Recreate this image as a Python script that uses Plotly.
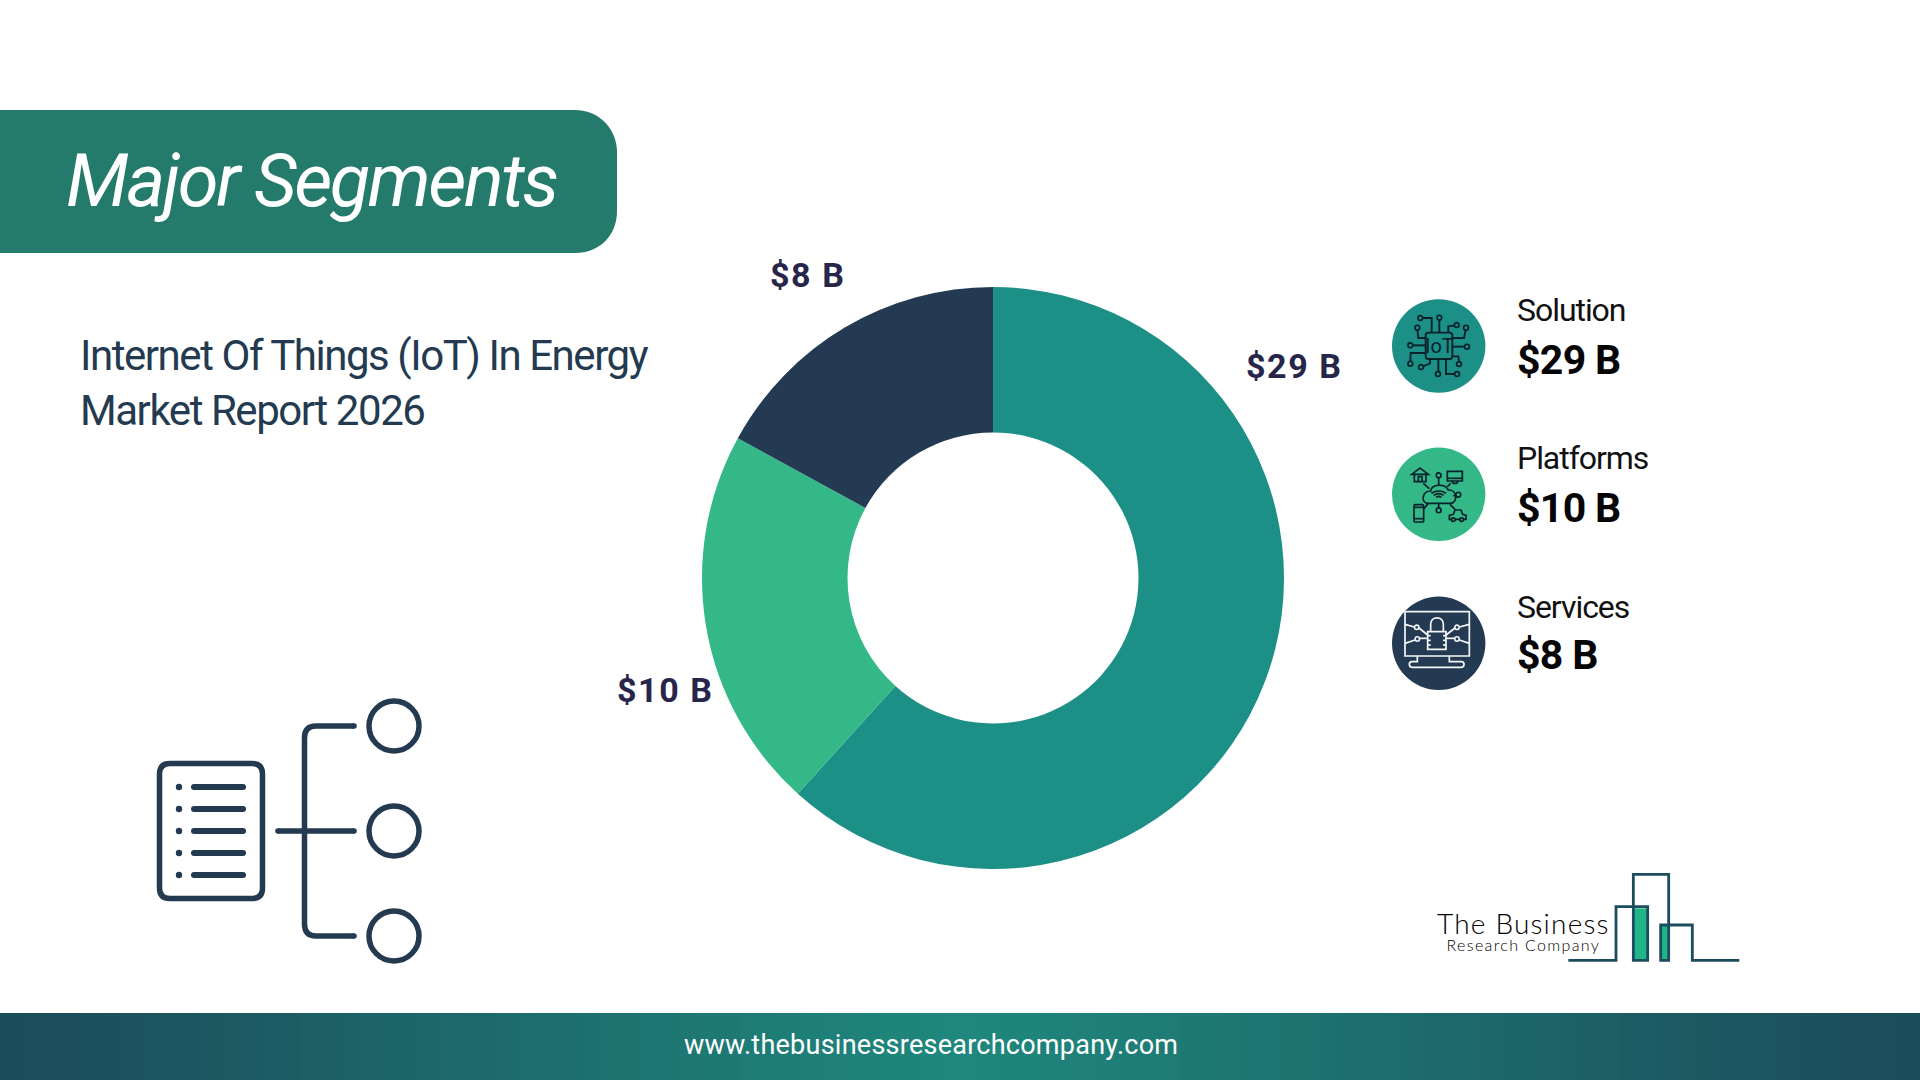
import plotly.graph_objects as go

# chart data
segments = ["Solution", "Platforms", "Services"]
values = [29, 10, 8]
value_labels = ["$29 B", "$10 B", "$8 B"]
slice_colors = ["#1c8f86", "#35b888", "#243a52"]

title_text = "Major Segments"
subtitle_lines = ["Internet Of Things (IoT) In Energy", "Market Report 2026"]
footer_text = "www.thebusinessresearchcompany.com"

W, H = 1920, 1080
NAVY = "#233a50"
INK = "#08222b"
LOGO = "#1c4d5e"

shapes = []
annotations = []


def xp(x):
    return x / W


def yp(y):
    return 1 - y / H


def to_path(d, ox=0, oy=0, s=1.0):
    # svg-like string in pixels -> plotly path in paper coords
    out = []
    is_x = True
    for tok in d.split():
        if tok.isalpha():
            out.append(tok)
            is_x = True
        elif is_x:
            out.append(str(xp(ox + float(tok) * s)))
            is_x = False
        else:
            out.append(str(yp(oy + float(tok) * s)))
            is_x = True
    return " ".join(out)


def add_path(d, ox=0, oy=0, s=1.0, color=NAVY, width=2.0, fill=None):
    shapes.append(dict(type="path", xref="paper", yref="paper", path=to_path(d, ox, oy, s),
                       line=dict(color=color, width=width),
                       fillcolor=fill if fill else "rgba(0,0,0,0)"))


def add_circle(cx, cy, r, color=NAVY, width=0.0, fill=None):
    shapes.append(dict(type="circle", xref="paper", yref="paper",
                       x0=xp(cx - r), x1=xp(cx + r), y0=yp(cy + r), y1=yp(cy - r),
                       line=dict(color=color, width=width),
                       fillcolor=fill if fill else "rgba(0,0,0,0)"))


def add_rect(x0, y0, x1, y1, fill):
    shapes.append(dict(type="rect", xref="paper", yref="paper",
                       x0=xp(x0), x1=xp(x1), y0=yp(y1), y1=yp(y0),
                       line=dict(width=0), fillcolor=fill))


def add_text(text, x, baseline, size, color, weight=400, style="normal", spacing=0.0,
             family="Roboto", anchor="left"):
    # centre of the text box sits about 0.34em above the baseline
    if spacing:
        text = '<span style="letter-spacing:%spx">%s</span>' % (spacing, text)
    annotations.append(dict(text=text, xref="paper", yref="paper", x=xp(x),
                            y=yp(baseline - 0.34 * size), xanchor=anchor, yanchor="middle",
                            align=anchor, showarrow=False,
                            font=dict(family=family, size=size, color=color,
                                      weight=weight, style=style)))


def mix(c1, c2, t):
    return "rgb(%d,%d,%d)" % tuple(round(a + (b - a) * t) for a, b in zip(c1, c2))


# header banner
add_path("M 0 110 L 575 110 C 600 110 617 130 617 152 L 617 211 C 617 235 600 253 575 253 L 0 253 Z",
         color="#247b6c", width=0, fill="#247b6c")
add_text(title_text, 64, 206, 74, "#ffffff", weight=400, style="italic", spacing=-2.4)

for i, line in enumerate(subtitle_lines):
    add_text(line, 77.5, 370 + i * 55, 42, NAVY, weight=400, spacing=-1.45)

# footer with horizontal gradient, dark at both ends
step = 20
for x in range(0, W, step):
    t = 1 - abs(x + step / 2 - W / 2) / (W / 2)
    add_rect(x, 1013, x + step + 1, 1080, mix((27, 75, 90), (31, 136, 125), t))
add_text(footer_text, 931, 1054, 27, "#ffffff", spacing=0.25, anchor="center")

# list icon, bottom left
add_path("M 170 763.5 L 252 763.5 Q 262.5 763.5 262.5 774 L 262.5 888 Q 262.5 898.5 252 898.5 "
         "L 170 898.5 Q 159.5 898.5 159.5 888 L 159.5 774 Q 159.5 763.5 170 763.5 Z", width=5.5)
for y in [787, 809, 831, 853, 875]:
    add_circle(179, y, 3.2, fill=NAVY)
    add_path("M 194 %s L 243 %s" % (y, y), width=6)
    add_circle(194, y, 3, fill=NAVY)
    add_circle(243, y, 3, fill=NAVY)
add_path("M 278 831 L 354 831", width=5.5)
add_path("M 354 726 L 316 726 Q 304.5 726 304.5 738 L 304.5 924 Q 304.5 936 316 936 L 354 936", width=5.5)
for x, y in [(278, 831), (354, 831), (354, 726), (354, 936)]:
    add_circle(x, y, 2.8, fill=NAVY)
for y in [726, 831, 936]:
    add_circle(394, y, 25, width=5.5)

# legend circles and text
legend_y = [346, 494.3, 643.3]
value_base = [374, 522.3, 668.5]
for i, name in enumerate(segments):
    add_circle(1438.7, legend_y[i], 46.7, fill=slice_colors[i])
    add_text(name, 1514.6, legend_y[i] - 25, 32, "#111111", weight=400, spacing=-1.05)
    add_text(value_labels[i], 1514.6, value_base[i], 41, "#050505", weight=700, spacing=-0.7)

# IoT chip icon
ox, oy, s = 1390, 298, 1 / 3
add_path("M 115 104 L 179 104 Q 187 104 187 112 L 187 175 Q 187 183 179 183 L 115 183 Q 107 183 107 175 "
         "L 107 112 Q 107 104 115 104 Z", ox, oy, s, INK, 1.9)
chip_lines = ["M 125 104 L 125 60 L 98 60", "M 148 104 L 148 66", "M 175 104 L 175 85 L 193 83",
              "M 187 120 L 222 120 L 227 96", "M 187 146 L 224 146", "M 187 175 L 205 175 L 207 191",
              "M 168 183 L 168 228 L 194 228", "M 145 183 L 145 221", "M 120 183 L 120 196 L 99 205",
              "M 107 165 L 62 165 L 61 190", "M 107 142 L 68 142", "M 107 120 L 85 120 L 82 96"]
for d in chip_lines:
    add_path(d, ox, oy, s, INK, 1.9)
chip_dots = [(91, 60), (148, 59), (200, 81), (228, 89), (231, 146), (207, 198),
             (201, 228), (144, 228), (93, 207), (61, 197), (61, 142), (82, 89)]
for x, y in chip_dots:
    add_circle(ox + x * s, oy + y * s, 2.4, INK, 1.7)
add_text("IoT", ox + 147 * s, oy + 165 * s, 20, INK, weight=400, anchor="center")

# connected devices icon
ox, oy, s = 1390, 446, 1 / 3
net_lines = ["M 65 85 L 90 66 L 115 85 Z", "M 73 85 L 73 107 L 108 107 L 108 85",
             "M 85 107 L 85 92 L 96 92 L 96 107",
             "M 172 76 L 217 76 L 217 105 L 172 105 Z", "M 172 97 L 217 97", "M 185 105 L 190 112 L 200 112 L 205 105",
             "M 112 172 C 92 170 96 135 122 135 C 125 113 165 112 175 132 C 202 130 205 172 180 172 Z",
             "M 124 142 Q 146 128 168 142", "M 131 148 Q 146 138 161 148", "M 138 154 Q 146 148 154 154",
             "M 146 118 L 146 95", "M 190 150 L 198 147", "M 146 172 L 146 186",
             "M 118 128 L 100 112", "M 172 122 L 182 112", "M 100 190 L 115 172", "M 180 175 L 195 190",
             "M 76 176 L 97 176 Q 101 176 101 180 L 101 224 Q 101 228 97 228 L 76 228 Q 72 228 72 224 "
             "L 72 180 Q 72 176 76 176 Z", "M 72 184 L 101 184", "M 72 218 L 101 218",
             "M 178 220 L 178 208 L 190 205 L 195 192 L 213 192 L 218 205 L 228 208 L 228 220 Z"]
for d in net_lines:
    add_path(d, ox, oy, s, INK, 1.7)
for x, y, r in [(146, 88, 2.4), (205, 146, 2.4), (146, 193, 2.4), (190, 221, 1.8), (215, 221, 1.8)]:
    add_circle(ox + x * s, oy + y * s, r, INK, 1.7, fill="#35b888")

# locked monitor icon
ox, oy, s = 1390, 595, 1 / 3
white = "#f4f7f8"
lock_lines = ["M 45 50 L 238 50 L 238 183 L 45 183 Z",
              "M 82 183 L 82 200 L 66 200 Q 58 200 58 208 Q 58 217 66 217 L 214 217 Q 222 217 222 208 "
              "Q 222 200 214 200 L 178 200 L 178 183",
              "M 113 110 L 168 110 L 168 163 L 113 163 Z",
              "M 122 110 L 122 88 C 122 62 160 62 160 88 L 160 110",
              "M 113 122 L 122 122", "M 113 136 L 122 136", "M 113 150 L 122 150",
              "M 168 122 L 159 122", "M 168 136 L 159 136", "M 168 150 L 159 150",
              "M 45 88 L 73 96", "M 87 99 L 113 120", "M 45 145 L 75 135", "M 89 130 L 113 130",
              "M 238 88 L 208 96", "M 195 99 L 168 120", "M 238 145 L 208 135", "M 195 130 L 168 130"]
for d in lock_lines:
    add_path(d, ox, oy, s, white, 1.7)
for x, y in [(80, 97), (82, 132), (201, 97), (201, 132)]:
    add_circle(ox + x * s, oy + y * s, 2.2, white, 1.6)

# value labels around the donut
label_spots = [(1243.5, 378), (614.5, 702), (767.5, 287)]
for i, lab in enumerate(value_labels):
    add_text(lab, label_spots[i][0], label_spots[i][1], 34, "#28254a", weight=700, spacing=1.6)

# company logo
ox, oy, s = 1400, 850, 1 / 3
add_path("M 700 175 L 743 175 L 743 331 L 700 331 Z", ox, oy, s, "#1fb589", 0, fill="#1fb589")
add_path("M 782 228 L 806 228 L 806 331 L 782 331 Z", ox, oy, s, "#1fb589", 0, fill="#1fb589")
add_path("M 505 331 L 648 331 L 648 170 L 743 170 L 743 331 L 700 331 L 700 73 L 806 73 L 806 331 "
         "L 782 331 L 782 225 L 877 225 L 877 331 L 1018 331", ox, oy, s, LOGO, 2.8)
# both logo lines in one annotation, the line step comes from the small base size
logo_text = ('<span style="font-size:28px;font-weight:300;letter-spacing:1.2px">The Business</span><br>'
             '<span style="font-size:16px;font-weight:300;letter-spacing:1.35px">Research Company</span>')
annotations.append(dict(text=logo_text, xref="paper", yref="paper", x=xp(1523.5), y=yp(930),
                        xanchor="center", yanchor="middle", align="center", showarrow=False,
                        font=dict(family="Lato", size=13, color="#000000")))

cx, cy, radius = 993, 578, 291
fig = go.Figure(go.Pie(labels=segments, values=values, hole=0.5, sort=False, direction="clockwise",
                       rotation=0, textinfo="none", showlegend=False,
                       marker=dict(colors=slice_colors),
                       domain=dict(x=[xp(cx - radius), xp(cx + radius)],
                                   y=[yp(cy + radius), yp(cy - radius)])))
fig.update_layout(width=W, height=H, margin=dict(l=0, r=0, t=0, b=0), paper_bgcolor="#ffffff",
                  plot_bgcolor="#ffffff", font=dict(family="Roboto"),
                  shapes=shapes, annotations=annotations)
# the default page has an 8px body margin, the banner and footer run to the window edge
fig.write_html("out.html", config={"displayModeBar": False},
               post_script="document.body.style.margin='0';document.body.style.overflow='hidden';")
